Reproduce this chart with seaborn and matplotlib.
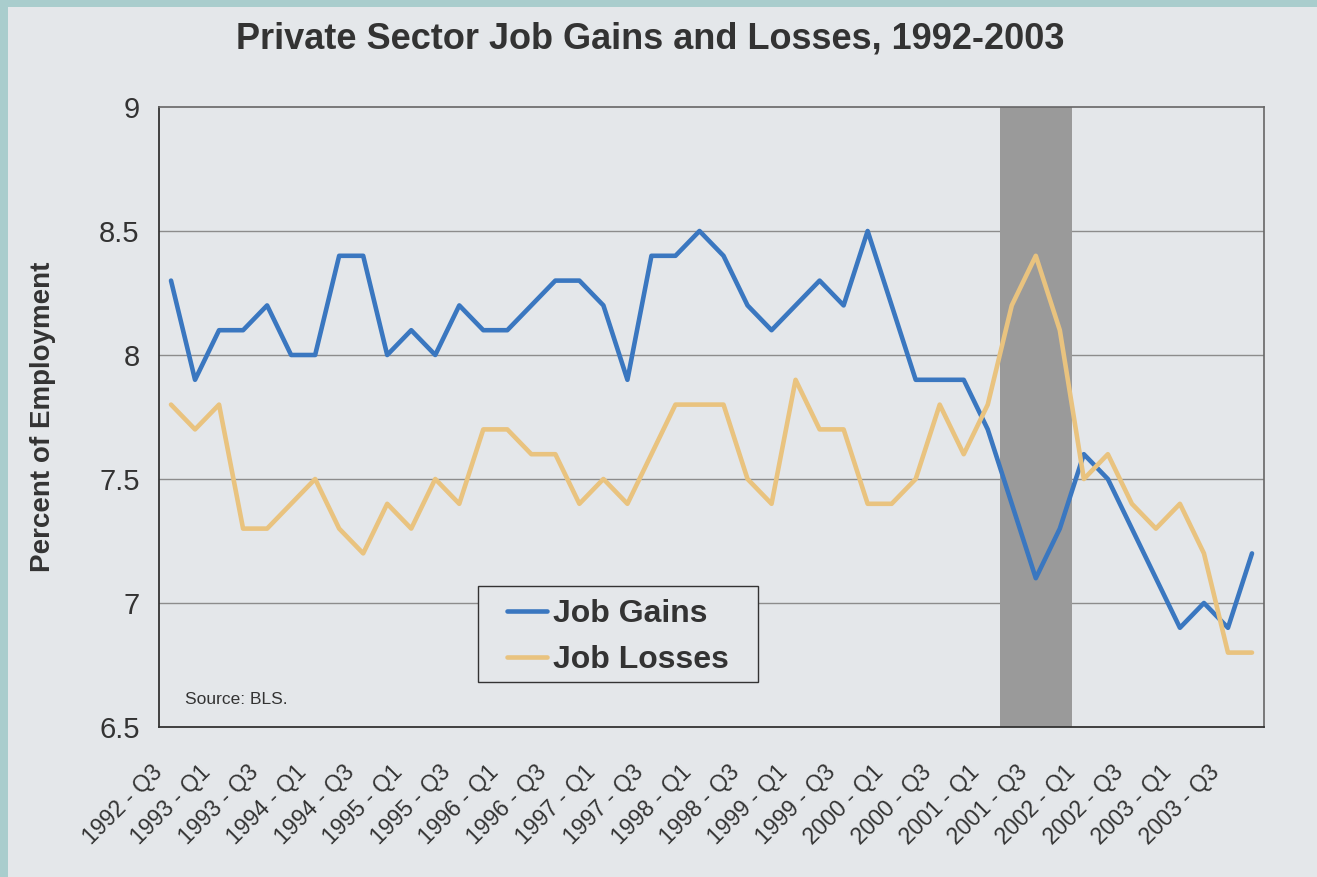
import numpy as np
import pandas as pd
import matplotlib
matplotlib.use("Agg")
import matplotlib.pyplot as plt
import matplotlib.transforms as mtransforms
from matplotlib.patches import Rectangle
import seaborn as sns

# Quarterly private-sector job gains and losses, % of employment
quarters = [f"{y} - Q{q}" for y in range(1992, 2004) for q in range(1, 5)][2:]
job_gains = [8.3, 7.9, 8.1, 8.1, 8.2, 8.0, 8.0, 8.4, 8.4, 8.0,
             8.1, 8.0, 8.2, 8.1, 8.1, 8.2, 8.3, 8.3, 8.2, 7.9,
             8.4, 8.4, 8.5, 8.4, 8.2, 8.1, 8.2, 8.3, 8.2, 8.5,
             8.2, 7.9, 7.9, 7.9, 7.7, 7.4, 7.1, 7.3, 7.6, 7.5,
             7.3, 7.1, 6.9, 7.0, 6.9, 7.2]
job_losses = [7.8, 7.7, 7.8, 7.3, 7.3, 7.4, 7.5, 7.3, 7.2, 7.4,
              7.3, 7.5, 7.4, 7.7, 7.7, 7.6, 7.6, 7.4, 7.5, 7.4,
              7.6, 7.8, 7.8, 7.8, 7.5, 7.4, 7.9, 7.7, 7.7, 7.4,
              7.4, 7.5, 7.8, 7.6, 7.8, 8.2, 8.4, 8.1, 7.5, 7.6,
              7.4, 7.3, 7.4, 7.2, 6.8, 6.8]
recession_start, recession_end = "2001 - Q2", "2001 - Q4"
y_ticks = [6.5, 7, 7.5, 8, 8.5, 9]

BG = "#e4e7ea"
EDGE = "#a9cdcd"
GAINS = "#3a77c0"
LOSSES = "#e9c37f"
TEXT = "#333333"

sns.set_theme(style="white")
plt.rcParams["font.family"] = ["Liberation Sans", "DejaVu Sans"]

df = pd.DataFrame({
    "idx": list(range(len(quarters))) * 2,
    "value": job_gains + job_losses,
    "series": ["Job Gains"] * len(quarters) + ["Job Losses"] * len(quarters),
})

fig = plt.figure(figsize=(13.17, 8.77), dpi=100, facecolor=EDGE)
fig.patches.append(Rectangle((8 / 1317, 0), 1, 1 - 7 / 877, transform=fig.transFigure,
                             facecolor=BG, edgecolor="none", zorder=-10))
ax = fig.add_axes([159 / 1317, 150 / 877, 1105 / 1317, 620 / 877])
ax.set_facecolor(BG)

# recession band
i0 = quarters.index(recession_start) - 0.5
i1 = quarters.index(recession_end) + 0.5
ax.axvspan(i0, i1, color="#9a9a9a", zorder=1, lw=0)

sns.lineplot(data=df, x="idx", y="value", hue="series", ax=ax,
             palette={"Job Gains": GAINS, "Job Losses": LOSSES},
             linewidth=3.3, zorder=3, legend=False)

n = len(quarters)
ax.set_xlim(-0.5, n - 0.5)
ax.set_ylim(6.5, 9)
ax.set_yticks(y_ticks)
ax.set_yticklabels([f"{v:g}" for v in y_ticks], fontsize=21, color=TEXT)
for v in y_ticks[1:-1]:
    ax.axhline(v, color="#8c8c8c", lw=1.0, zorder=0.5)

lab_idx = list(range(0, n, 2))
ax.set_xticks(lab_idx)
ax.set_xticklabels([quarters[i] for i in lab_idx], rotation=45, ha="right",
                   rotation_mode="anchor", fontsize=16.5, color=TEXT)
ax.set_xticks(np.arange(-0.5, n, 1), minor=True)
ax.tick_params(axis="x", which="major", length=0, pad=24)
ax.tick_params(axis="x", which="minor", length=7, width=1, color="#444444", direction="out")
ax.tick_params(axis="y", length=8, width=1, color="#444444", direction="out", pad=6)
# nudge the slanted quarter labels left so they sit under their quarters
shift = mtransforms.ScaledTranslation(-20 / 100, 0, fig.dpi_scale_trans)
for lbl in ax.get_xticklabels():
    lbl.set_transform(lbl.get_transform() + shift)

ax.set_xlabel("")
ax.set_ylabel("Percent of Employment", fontsize=20, fontweight="bold", color=TEXT)
ax.yaxis.set_label_coords(-103 / 1105, 0.5)

for side in ["left", "bottom"]:
    ax.spines[side].set_color("#333333")
    ax.spines[side].set_linewidth(1.3)
for side in ["top", "right"]:
    ax.spines[side].set_color("#666666")
    ax.spines[side].set_linewidth(1.2)

# legend box drawn as a plain rectangle, entries placed inside it
ax.add_patch(Rectangle((319 / 1105, 45 / 620), 280 / 1105, 96 / 620, transform=ax.transAxes,
                       facecolor=BG, edgecolor="#333333", lw=1.0, zorder=4))
handles = [plt.Line2D([], [], color=GAINS, lw=3.3), plt.Line2D([], [], color=LOSSES, lw=3.3)]
leg = ax.legend(handles, ["Job Gains", "Job Losses"], loc="center left",
                bbox_to_anchor=(348 / 1105, 90 / 620), frameon=False,
                handlelength=1.25, handletextpad=0.2, borderpad=0, borderaxespad=0,
                labelspacing=0.5, prop={"size": 23, "weight": "bold"})
leg.set_zorder(5)
for t in leg.get_texts():
    t.set_color(TEXT)

ax.text(26 / 1105, 23 / 620, "Source: BLS.", transform=ax.transAxes, fontsize=12.5,
        color=TEXT, va="baseline")

fig.text(650 / 1317, 1 - 39 / 877, "Private Sector Job Gains and Losses, 1992-2003",
         ha="center", va="center", fontsize=26, fontweight="bold", color=TEXT)

fig.savefig("out.png", dpi=100, facecolor=fig.get_facecolor())
